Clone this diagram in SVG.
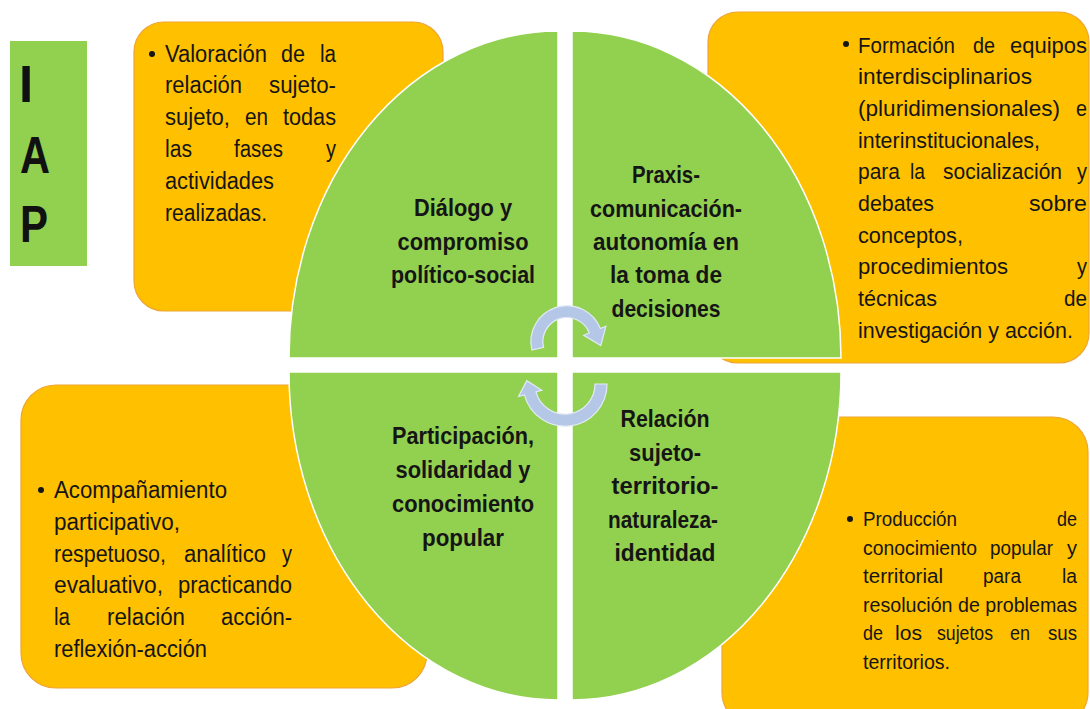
<svg xmlns="http://www.w3.org/2000/svg" width="1090" height="709" viewBox="0 0 1090 709">
<style>
.box{fill:#FFC000;stroke:#EFA531;stroke-width:1.2}
.quad{fill:#92D050;stroke:#FFFFFF;stroke-width:1.5}
.body{font-family:'Liberation Sans',Arial,sans-serif;font-size:23.5px;fill:#151515}
.mid{font-size:22.5px}
.small{font-size:20px}
.lbl{font-family:'Liberation Sans',Arial,sans-serif;font-size:24px;font-weight:bold;fill:#151515;text-anchor:middle}
.big{font-family:'Liberation Sans',Arial,sans-serif;font-size:51px;font-weight:bold;fill:#111}
.arrow{fill:#B4C7E7;stroke:#E3EAF6;stroke-width:1.2}
.dot{fill:#151515}
</style>
<rect width="1090" height="709" fill="#FFFFFF"/>

<g id="iap">
<rect x="10" y="41" width="77" height="225" fill="#92D050"/>
<text class="big" x="19" y="102">I</text>
<text class="big" x="20" y="173" textLength="30" lengthAdjust="spacingAndGlyphs">A</text>
<text class="big" x="20" y="242" textLength="28" lengthAdjust="spacingAndGlyphs">P</text>
</g>

<g id="box-tl">
<rect class="box" x="134" y="22" width="309" height="289" rx="30"/>
<circle class="dot" cx="152" cy="54" r="3"/>
<text class="body" y="62"><tspan x="165" textLength="102" lengthAdjust="spacingAndGlyphs">Valoración</tspan><tspan x="281" textLength="24" lengthAdjust="spacingAndGlyphs">de</tspan><tspan x="320" textLength="16" lengthAdjust="spacingAndGlyphs">la</tspan></text>
<text class="body" y="93"><tspan x="165" textLength="77" lengthAdjust="spacingAndGlyphs">relación</tspan><tspan x="269" textLength="67" lengthAdjust="spacingAndGlyphs">sujeto-</tspan></text>
<text class="body" y="125"><tspan x="165" textLength="65" lengthAdjust="spacingAndGlyphs">sujeto,</tspan><tspan x="245" textLength="23" lengthAdjust="spacingAndGlyphs">en</tspan><tspan x="283" textLength="53" lengthAdjust="spacingAndGlyphs">todas</tspan></text>
<text class="body" y="157"><tspan x="165" textLength="27" lengthAdjust="spacingAndGlyphs">las</tspan><tspan x="234" textLength="49" lengthAdjust="spacingAndGlyphs">fases</tspan><tspan x="326" textLength="10" lengthAdjust="spacingAndGlyphs">y</tspan></text>
<text class="body" y="189"><tspan x="165" textLength="109" lengthAdjust="spacingAndGlyphs">actividades</tspan></text>
<text class="body" y="221"><tspan x="165" textLength="102" lengthAdjust="spacingAndGlyphs">realizadas.</tspan></text>
</g>

<g id="box-tr">
<rect class="box" x="708" y="12" width="381" height="351" rx="30"/>
<circle class="dot" cx="846" cy="44" r="3"/>
<text class="body mid" y="52.5"><tspan x="858" textLength="97" lengthAdjust="spacingAndGlyphs">Formación</tspan><tspan x="973" textLength="22" lengthAdjust="spacingAndGlyphs">de</tspan><tspan x="1010" textLength="77" lengthAdjust="spacingAndGlyphs">equipos</tspan></text>
<text class="body mid" y="84.2"><tspan x="858" textLength="174" lengthAdjust="spacingAndGlyphs">interdisciplinarios</tspan></text>
<text class="body mid" y="115.9"><tspan x="858" textLength="202" lengthAdjust="spacingAndGlyphs">(pluridimensionales)</tspan><tspan x="1076" textLength="11" lengthAdjust="spacingAndGlyphs">e</tspan></text>
<text class="body mid" y="147.6"><tspan x="858" textLength="182" lengthAdjust="spacingAndGlyphs">interinstitucionales,</tspan></text>
<text class="body mid" y="179.3"><tspan x="858" textLength="42" lengthAdjust="spacingAndGlyphs">para</tspan><tspan x="910" textLength="15" lengthAdjust="spacingAndGlyphs">la</tspan><tspan x="943" textLength="119" lengthAdjust="spacingAndGlyphs">socialización</tspan><tspan x="1077" textLength="10" lengthAdjust="spacingAndGlyphs">y</tspan></text>
<text class="body mid" y="211"><tspan x="858" textLength="76" lengthAdjust="spacingAndGlyphs">debates</tspan><tspan x="1029" textLength="58" lengthAdjust="spacingAndGlyphs">sobre</tspan></text>
<text class="body mid" y="242.7"><tspan x="858" textLength="105" lengthAdjust="spacingAndGlyphs">conceptos,</tspan></text>
<text class="body mid" y="274.4"><tspan x="858" textLength="150" lengthAdjust="spacingAndGlyphs">procedimientos</tspan><tspan x="1077" textLength="10" lengthAdjust="spacingAndGlyphs">y</tspan></text>
<text class="body mid" y="306.1"><tspan x="858" textLength="79" lengthAdjust="spacingAndGlyphs">técnicas</tspan><tspan x="1064" textLength="23" lengthAdjust="spacingAndGlyphs">de</tspan></text>
<text class="body mid" y="337.8"><tspan x="858" textLength="215" lengthAdjust="spacingAndGlyphs">investigación y acción.</tspan></text>
</g>

<g id="box-bl">
<rect class="box" x="21" y="385" width="406" height="303" rx="35"/>
<circle class="dot" cx="41" cy="490" r="3"/>
<text class="body" y="498"><tspan x="54" textLength="173" lengthAdjust="spacingAndGlyphs">Acompañamiento</tspan></text>
<text class="body" y="530"><tspan x="54" textLength="126" lengthAdjust="spacingAndGlyphs">participativo,</tspan></text>
<text class="body" y="562"><tspan x="54" textLength="112" lengthAdjust="spacingAndGlyphs">respetuoso,</tspan><tspan x="184" textLength="82" lengthAdjust="spacingAndGlyphs">analítico</tspan><tspan x="282" textLength="10" lengthAdjust="spacingAndGlyphs">y</tspan></text>
<text class="body" y="593"><tspan x="54" textLength="109" lengthAdjust="spacingAndGlyphs">evaluativo,</tspan><tspan x="178" textLength="114" lengthAdjust="spacingAndGlyphs">practicando</tspan></text>
<text class="body" y="625"><tspan x="54" textLength="16" lengthAdjust="spacingAndGlyphs">la</tspan><tspan x="107" textLength="78" lengthAdjust="spacingAndGlyphs">relación</tspan><tspan x="221" textLength="71" lengthAdjust="spacingAndGlyphs">acción-</tspan></text>
<text class="body" y="657"><tspan x="54" textLength="153" lengthAdjust="spacingAndGlyphs">reflexión-acción</tspan></text>
</g>

<g id="box-br">
<rect class="box" x="722" y="417" width="366" height="310" rx="35"/>
<circle class="dot" cx="850" cy="519" r="3"/>
<text class="body small" y="526"><tspan x="863" textLength="94" lengthAdjust="spacingAndGlyphs">Producción</tspan><tspan x="1057" textLength="20" lengthAdjust="spacingAndGlyphs">de</tspan></text>
<text class="body small" y="554.5"><tspan x="863" textLength="114" lengthAdjust="spacingAndGlyphs">conocimiento</tspan><tspan x="990" textLength="63" lengthAdjust="spacingAndGlyphs">popular</tspan><tspan x="1067" textLength="10" lengthAdjust="spacingAndGlyphs">y</tspan></text>
<text class="body small" y="583"><tspan x="863" textLength="80" lengthAdjust="spacingAndGlyphs">territorial</tspan><tspan x="983" textLength="38" lengthAdjust="spacingAndGlyphs">para</tspan><tspan x="1062" textLength="15" lengthAdjust="spacingAndGlyphs">la</tspan></text>
<text class="body small" y="611.5"><tspan x="863" textLength="214" lengthAdjust="spacingAndGlyphs">resolución de problemas</tspan></text>
<text class="body small" y="640"><tspan x="863" textLength="20" lengthAdjust="spacingAndGlyphs">de</tspan><tspan x="895" textLength="27" lengthAdjust="spacingAndGlyphs">los</tspan><tspan x="937" textLength="56" lengthAdjust="spacingAndGlyphs">sujetos</tspan><tspan x="1010" textLength="20" lengthAdjust="spacingAndGlyphs">en</tspan><tspan x="1048" textLength="29" lengthAdjust="spacingAndGlyphs">sus</tspan></text>
<text class="body small" y="668.5"><tspan x="863" textLength="87" lengthAdjust="spacingAndGlyphs">territorios.</tspan></text>
</g>

<g id="quad-tl">
<path class="quad" d="M558,358 L289,358 A269,327 0 0 1 558,31 Z"/>
<text class="lbl" x="463" y="216" textLength="98" lengthAdjust="spacingAndGlyphs">Diálogo y</text>
<text class="lbl" x="463" y="250" textLength="131" lengthAdjust="spacingAndGlyphs">compromiso</text>
<text class="lbl" x="463" y="283" textLength="144" lengthAdjust="spacingAndGlyphs">político-social</text>
</g>

<g id="quad-tr">
<path class="quad" d="M572,358 L572,31 A269,327 0 0 1 841,358 Z"/>
<text class="lbl" x="666" y="183" textLength="68" lengthAdjust="spacingAndGlyphs">Praxis-</text>
<text class="lbl" x="666" y="217" textLength="152" lengthAdjust="spacingAndGlyphs">comunicación-</text>
<text class="lbl" x="666" y="250" textLength="146" lengthAdjust="spacingAndGlyphs">autonomía en</text>
<text class="lbl" x="666" y="283" textLength="112" lengthAdjust="spacingAndGlyphs">la toma de</text>
<text class="lbl" x="666" y="317" textLength="109" lengthAdjust="spacingAndGlyphs">decisiones</text>
</g>

<g id="quad-bl">
<path class="quad" d="M558,372 L558,700 A269,328 0 0 1 289,372 Z"/>
<text class="lbl" x="463" y="444" textLength="142" lengthAdjust="spacingAndGlyphs">Participación,</text>
<text class="lbl" x="463" y="478" textLength="135" lengthAdjust="spacingAndGlyphs">solidaridad y</text>
<text class="lbl" x="463" y="512" textLength="142" lengthAdjust="spacingAndGlyphs">conocimiento</text>
<text class="lbl" x="463" y="546" textLength="82" lengthAdjust="spacingAndGlyphs">popular</text>
</g>

<g id="quad-br">
<path class="quad" d="M572,372 L841,372 A269,328 0 0 1 572,700 Z"/>
<text class="lbl" x="665" y="427" textLength="89" lengthAdjust="spacingAndGlyphs">Relación</text>
<text class="lbl" x="665" y="460.5" textLength="72" lengthAdjust="spacingAndGlyphs">sujeto-</text>
<text class="lbl" x="665" y="494" textLength="107" lengthAdjust="spacingAndGlyphs">territorio-</text>
<text class="lbl" x="663" y="527.5" textLength="110" lengthAdjust="spacingAndGlyphs">naturaleza-</text>
<text class="lbl" x="665" y="561" textLength="101" lengthAdjust="spacingAndGlyphs">identidad</text>
</g>

<g id="connectors">
<path class="arrow" d="M531.9,350.1 A36,36 0 0 1 600.4,328.5 L605.9,326.3 L600.8,345.6 L583.7,335.3 L589.3,333.0 A24,24 0 0 0 543.6,347.4 Z"/>
<path class="arrow" d="M607,384 A42,42 0 0 1 524.4,394.9 L518.6,396.4 L526.8,380.7 L541.8,390.2 L536.0,391.8 A30,30 0 0 0 595,384 Z"/>
</g>
</svg>
